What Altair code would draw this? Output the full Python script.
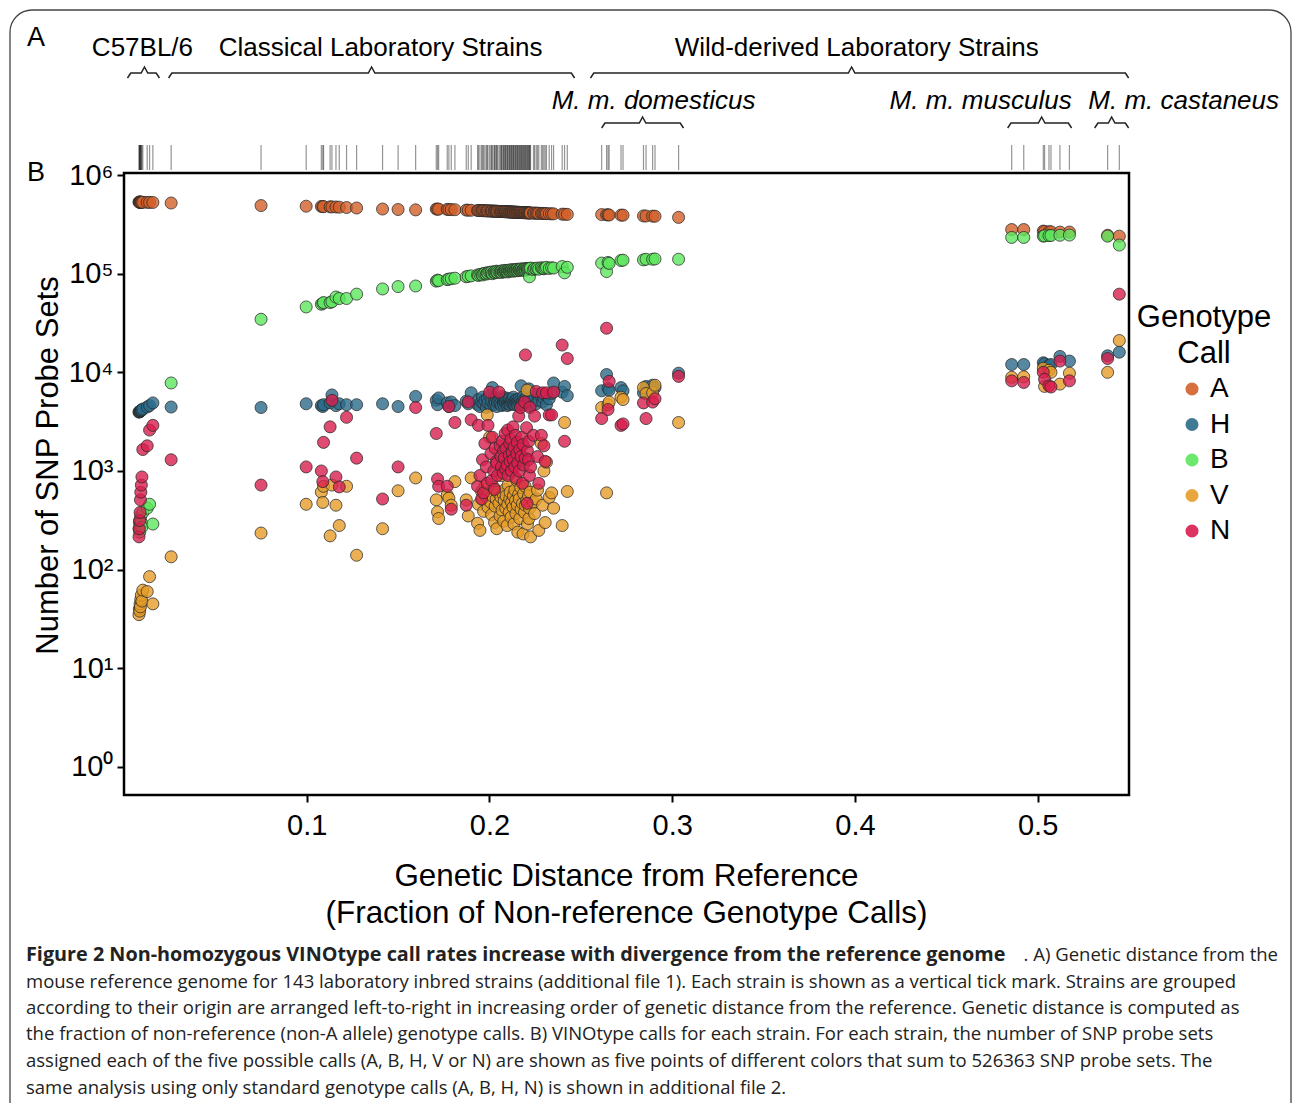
import altair as alt
import pandas as pd

# ---------------- data ----------------
CALLS = ["A", "H", "B", "V", "N"]
CALL_COLORS = ["#D2602A", "#2C6B8A", "#5CE65C", "#E59C28", "#D81E4E"]

# genetic distance from reference for each strain (fraction of non-reference calls)
distance = [
    # C57BL/6 substrains
    0.0082, 0.0084, 0.0086, 0.0088, 0.0090, 0.0092, 0.0095, 0.0098, 0.0103, 0.0127, 0.0140, 0.0158,
    # classical laboratory strains
    0.0258, 0.0750, 0.0997, 0.1080, 0.1088, 0.1092, 0.1128, 0.1138, 0.1160, 0.1178, 0.1218, 0.1273, 0.1415, 0.1500, 0.1596,
    0.1709, 0.1716, 0.1722, 0.1769, 0.1778, 0.1791, 0.1811, 0.1873, 0.1884, 0.1900,
    0.1935, 0.1940, 0.1948, 0.1957, 0.1962, 0.1968, 0.1975, 0.1983, 0.1988, 0.1992,
    0.2001, 0.2008, 0.2012, 0.2016, 0.2024, 0.2028, 0.2031, 0.2037, 0.2040, 0.2044,
    0.2052, 0.2058, 0.2063, 0.2066, 0.2069, 0.2075, 0.2078, 0.2081, 0.2086, 0.2089,
    0.2091, 0.2097, 0.2100, 0.2102, 0.2108, 0.2111, 0.2113, 0.2118, 0.2121, 0.2124,
    0.2129, 0.2131, 0.2134, 0.2139, 0.2142, 0.2145, 0.2150, 0.2152, 0.2155, 0.2160,
    0.2163, 0.2166, 0.2171, 0.2173, 0.2176, 0.2181, 0.2184, 0.2187, 0.2192, 0.2195,
    0.2197, 0.2203, 0.2206, 0.2208, 0.2214, 0.2216, 0.2219, 0.2222, 0.2225, 0.2241,
    0.2247, 0.2256, 0.2263, 0.2270, 0.2284, 0.2291, 0.2298, 0.2305, 0.2312, 0.2327,
    0.2340, 0.2351, 0.2398, 0.2411, 0.2426,
    # M. m. domesticus
    0.2614, 0.2641, 0.2649, 0.2655, 0.2720, 0.2731, 0.2843, 0.2857, 0.2893, 0.2906, 0.3035,
    # M. m. musculus
    0.4858, 0.4924, 0.5031, 0.5038, 0.5062, 0.5073, 0.5122, 0.5174,
    # M. m. castaneus
    0.5383, 0.5447,
]

calls_A = [
    532000, 531000, 531000, 530000, 530000, 530000, 529000, 529000, 529000, 528000, 528000, 527000,
    520000, 490000, 483000, 480000, 479000, 478000, 476000, 475000, 474000, 472000, 468000, 463000, 452000, 447000, 443000,
    452000, 451000, 451000, 448000, 447000, 446000, 445000, 441000, 440000, 439000,
    437000, 437000, 436000, 436000, 435000, 435000, 434000, 434000, 433000, 433000,
    432000, 432000, 431000, 431000, 430000, 430000, 430000, 429000, 429000, 428000,
    428000, 427000, 427000, 427000, 426000, 426000, 426000, 425000, 425000, 425000,
    424000, 424000, 424000, 423000, 423000, 423000, 422000, 422000, 422000, 421000,
    421000, 421000, 420000, 420000, 420000, 420000, 419000, 419000, 419000, 418000,
    418000, 418000, 417000, 417000, 417000, 416000, 416000, 416000, 415000, 415000,
    415000, 414000, 414000, 414000, 413000, 413000, 413000, 413000, 412000, 411000,
    411000, 410000, 410000, 409000, 408000, 408000, 407000, 407000, 406000, 405000,
    404000, 404000, 401000, 400000, 399000,
    397000, 395000, 395000, 393000, 392000, 392000, 385000, 384000, 383000, 382000, 372000,
    280000, 280000, 270000, 268000, 266000, 266000, 264000, 264000,
    245000, 240000,
]

calls_H = [
    3950, 3980, 4000, 4020, 4060, 4090, 4120, 4160, 4250, 4450, 4600, 4900,
    4450, 4400, 4800, 4600, 4500, 4700, 4900, 5900, 4600, 4800, 4700, 4700, 4800, 4500, 5700,
    5200, 4700, 5500, 4900, 4500, 5000, 4600, 5100, 4800, 6200,
    4700, 5300, 4500, 5000, 5600, 4800, 5200, 4400, 5400, 4900,
    5800, 4600, 5100, 7000, 4700, 5300, 4900, 5500, 4500, 5000,
    5200, 4800, 5400, 4600, 5700, 5000, 4700, 5300, 4900, 5100,
    5500, 4600, 5200, 4800, 5000, 5400, 4700, 5100, 4900, 5300,
    4800, 5600, 5000, 4700, 5200, 4900, 5300, 5000, 4600, 5100,
    5400, 4800, 5200, 7300, 4900, 5000, 5600, 4700, 5300, 5100,
    4900, 5500, 5000, 4800, 5200, 6800, 5400, 4600, 5100, 5600,
    5300, 4800, 6000, 5200, 5700, 5000, 5500, 5900, 4700, 5400,
    6100, 7800, 6300, 7200, 5800,
    6500, 9500, 6900, 6600, 7000, 6500, 6200, 7200, 7400, 7000, 9800,
    12000, 12000, 12500, 12200, 11800, 12000, 14500, 13000,
    14700, 16000,
]

calls_B = [
    260, 300, 240, 320, 280, 350, 300, 270, 380, 420, 460, 290,
    7800, 34500, 46000, 49000, 50000, 51000, 51000, 52000, 58000, 56000, 56000, 62000, 70000, 74000, 75000,
    84000, 86000, 85000, 87000, 88000, 89000, 90000, 93000, 94000, 95000,
    97000, 96000, 98000, 99000, 97000, 100000, 101000, 99000, 102000, 101000,
    103000, 102000, 104000, 100000, 103000, 105000, 102000, 104000, 106000, 103000,
    105000, 104000, 106000, 103000, 107000, 105000, 104000, 106000, 108000, 105000,
    107000, 106000, 104000, 108000, 107000, 109000, 106000, 108000, 107000, 110000,
    108000, 106000, 109000, 107000, 110000, 108000, 109000, 111000, 107000, 110000,
    109000, 111000, 108000, 110000, 112000, 109000, 111000, 110000, 112000, 108000,
    111000, 113000, 110000, 112000, 111000, 113000, 93000, 112000, 114000, 110000,
    113000, 112000, 114000, 111000, 115000, 113000, 112000, 114000, 116000, 113000,
    115000, 114000, 118000, 102000, 116000,
    128000, 105000, 130000, 127000, 136000, 137000, 138000, 140000, 140000, 141000, 140000,
    233000, 233000, 240000, 242000, 243000, 244000, 245000, 246000,
    240000, 195000,
]

calls_V = [
    35, 40, 38, 45, 42, 50, 55, 48, 62, 60, 85, 45,
    135, 235, 460, 610, 480, 700, 220, 720, 450, 280, 700, 140, 260, 630, 850,
    510, 385, 330, 570, 530, 450, 780, 510, 350, 850,
    295, 460, 250, 620, 520, 390, 700, 550, 3700, 430,
    2200, 480, 360, 560, 680, 300, 440, 520, 260, 610,
    470, 350, 540, 900, 400, 580, 310, 500, 650, 420,
    560, 280, 460, 720, 380, 520, 610, 340, 480, 1100,
    430, 560, 290, 640, 500, 370, 800, 450, 240, 580,
    520, 330, 680, 410, 1300, 470, 230, 590, 380, 700,
    450, 500, 6600, 290, 560, 330, 420, 610, 215, 480,
    370, 520, 640, 250, 1900, 450, 1000, 300, 1230, 540,
    600, 420, 280, 3100, 620,
    4400, 600, 4700, 5000, 5600, 5300, 7000, 6100, 6200, 7400, 3100,
    8900, 9000, 11000, 7200, 10500, 10000, 7600, 9800,
    10000, 21000,
]

calls_N = [
    215, 260, 315, 380, 510, 610, 720, 870, 1650, 1800, 2600, 2900,
    1300, 720, 1100, 1000, 780, 1950, 2800, 5200, 870, 690, 3500, 1350, 520, 1100, 4400,
    2400, 830, 700, 700, 4500, 410, 3100, 450, 5000, 3300,
    700, 2900, 900, 520, 1300, 600, 1900, 1100, 750, 2900,
    6300, 1500, 800, 2200, 1000, 650, 1700, 1250, 1200, 900,
    6300, 1800, 1400, 1100, 2000, 950, 1600, 1350, 2400, 1050,
    1700, 1150, 2600, 900, 1450, 1900, 1250, 2100, 1000, 1550,
    2800, 1300, 1750, 1100, 2300, 850, 1500, 1950, 1200, 3600,
    1000, 1650, 4400, 1400, 2200, 750, 1850, 1150, 5000, 1350,
    15000, 2750, 470, 1600, 1300, 2000, 900, 4400, 1100, 2300,
    3600, 6400, 1400, 750, 2300, 6200, 1800, 1250, 6200, 3700,
    3700, 6300, 18900, 2000, 13800,
    3400, 28000, 4200, 8100, 2900, 3000, 4900, 3400, 5000, 5400, 9100,
    8200, 7900, 10000, 8500, 7300, 7100, 13000, 8200,
    13800, 62000,
]

# strain-group brackets (in genetic-distance units)
group_labels = ["C57BL/6", "Classical Laboratory Strains", "Wild-derived Laboratory Strains"]
group_label_x = [0.0101, 0.1404, 0.4010]
sub_labels = ["M. m. domesticus", "M. m. musculus", "M. m. castaneus"]
sub_label_x = [0.2898, 0.4688, 0.5799]
brace_start = [0.0019, 0.0244, 0.2553, 0.2614, 0.4836, 0.5312]
brace_peak = [0.0112, 0.1355, 0.3982, 0.2838, 0.5022, 0.5405]
brace_end = [0.0194, 0.2466, 0.5498, 0.3062, 0.5186, 0.5498]
brace_level = ["top", "top", "top", "sub", "sub", "sub"]

caption_bold = "Figure 2 Non-homozygous VINOtype call rates increase with divergence from the reference genome"
caption_lines = [
    ". A) Genetic distance from the",
    "mouse reference genome for 143 laboratory inbred strains (additional file 1). Each strain is shown as a vertical tick mark. Strains are grouped",
    "according to their origin are arranged left-to-right in increasing order of genetic distance from the reference. Genetic distance is computed as",
    "the fraction of non-reference (non-A allele) genotype calls. B) VINOtype calls for each strain. For each strain, the number of SNP probe sets",
    "assigned each of the five possible calls (A, B, H, V or N) are shown as five points of different colors that sum to 526363 SNP probe sets. The",
    "same analysis using only standard genotype calls (A, B, H, N) is shown in additional file 2.",
]

# ---------------- tables ----------------
n = len(distance)
for arr in (calls_A, calls_H, calls_B, calls_V, calls_N):
    assert len(arr) == n, (len(arr), n)

rows = []
for call, vals in zip(CALLS, [calls_A, calls_H, calls_B, calls_V, calls_N]):
    for d, v in zip(distance, vals):
        rows.append({"distance": d, "count": v, "call": call})
points = pd.DataFrame(rows)
strains = pd.DataFrame({"distance": distance})

BRACE_Y = {"top": (-95, -100, -106), "sub": (-45, -50, -56)}
dx = 0.0018
brows = []
for i, (x0, xm, x1, lev) in enumerate(zip(brace_start, brace_peak, brace_end, brace_level)):
    yb, yl, yp = BRACE_Y[lev]
    path = [(x0, yb), (x0 + dx, yl), (xm - dx, yl), (xm, yp), (xm + dx, yl), (x1 - dx, yl), (x1, yb)]
    for k, (bx, by) in enumerate(path):
        brows.append({"brace": i, "k": k, "bx": bx, "by": by})
braces = pd.DataFrame(brows)

FONT = "Liberation Sans"
xscale = alt.Scale(domain=[0, 0.55], nice=False, zero=False)

x_axis = alt.Axis(
    values=[0.1, 0.2, 0.3, 0.4, 0.5], format=".1f",
    title=["Genetic Distance from Reference", "(Fraction of Non-reference Genotype Calls)"],
    titleFontSize=31.4, titleFontWeight="normal", titleFont=FONT, titleColor="black",
    titleX=502, titleY=65, titleBaseline="top", titleAlign="center", titleLineHeight=37,
    labelFontSize=29, labelFont=FONT, labelColor="black", labelPadding=9,
    tickSize=7, tickWidth=2, tickColor="black", domain=False, grid=False,
)


def xenc(field):
    return alt.X(field, scale=xscale, axis=x_axis)


# ---------------- layers ----------------
scatter = alt.Chart(points).mark_circle(
    size=145, opacity=1, fillOpacity=0.8, stroke="#2a2a2a", strokeWidth=1, strokeOpacity=0.75
).encode(
    x=xenc("distance:Q"),
    y=alt.Y(
        "count:Q",
        scale=alt.Scale(type="log", domain=[0.52, 1.048e6], nice=False),
        axis=alt.Axis(
            values=[1, 10, 100, 1000, 10000, 100000, 1000000],
            labelExpr="'10' + ['\u2070','\u00b9','\u00b2','\u00b3','\u2074','\u2075','\u2076'][round(log(datum.value)/LN10)]",
            title="Number of SNP Probe Sets",
            titleFontSize=31, titleFontWeight="normal", titleFont=FONT, titleColor="black",
            titleX=-76, titleY=292, titleAngle=-90, titleAlign="center", titleBaseline="middle",
            labelFontSize=29, labelFont=FONT, labelColor="black", labelPadding=4,
            tickSize=7, tickWidth=2, tickColor="black", domain=False, grid=False,
        ),
    ),
    fill=alt.Fill(
        "call:N",
        scale=alt.Scale(domain=CALLS, range=CALL_COLORS),
        legend=alt.Legend(
            title=["Genotype", "Call"], orient="none", legendX=1013, legendY=130,
            titleFontSize=31, titleFontWeight="normal", titleFont=FONT, titleColor="black",
            titleAlign="center", titleAnchor="middle", titleLineHeight=36, titlePadding=5,
            labelFontSize=28, labelFont=FONT, labelColor="black", labelOffset=4,
            symbolType="circle", symbolSize=170, symbolStrokeWidth=0, symbolOpacity=0.9,
            rowPadding=7.5, padding=0,
        ),
    ),
)

rug = alt.Chart(strains).mark_rule(color="black", opacity=0.42, strokeWidth=1.2).encode(
    x=xenc("distance:Q"),
    y=alt.value(-28),
    y2=alt.value(-3),
)

brace_layer = alt.Chart(braces).mark_line(color="#222222", strokeWidth=1.5, clip=False).encode(
    x=xenc("bx:Q"),
    y=alt.Y("by:Q", scale=alt.Scale(domain=[0, 100], range=[0, 100], nice=False, zero=False), axis=None),
    detail="brace:N",
    order="k:O",
)

group_text = alt.Chart(pd.DataFrame({"label": group_labels, "x": group_label_x})).mark_text(
    font=FONT, fontSize=26, color="black", align="center", baseline="middle"
).encode(x=xenc("x:Q"), y=alt.value(-125), text="label:N")

sub_text = alt.Chart(pd.DataFrame({"label": sub_labels, "x": sub_label_x})).mark_text(
    font=FONT, fontSize=26, fontStyle="italic", color="black", align="center", baseline="middle"
).encode(x=xenc("x:Q"), y=alt.value(-72), text="label:N")

one = pd.DataFrame({"k": [0]})
panel_a = alt.Chart(one).mark_text(font=FONT, fontSize=27, color="black", align="center", baseline="middle", text="A").encode(
    x=alt.value(-88), y=alt.value(-135))
panel_b = alt.Chart(one).mark_text(font=FONT, fontSize=27, color="black", align="center", baseline="middle", text="B").encode(
    x=alt.value(-88), y=alt.value(0))

frame = alt.Chart(one).mark_rect(fillOpacity=0, stroke="#444444", strokeWidth=1.3, cornerRadius=22).encode(
    x=alt.value(-114), x2=alt.value(1167), y=alt.value(-163), y2=alt.value(980))

CAP_FONT = "Open Sans"
CAP_SIZE = 18.5
cap_y = [782, 809, 835, 861, 888, 915]
caption_layers = [
    alt.Chart(one).mark_text(font=CAP_FONT, fontSize=19.8, fontWeight="bold", color="#222222",
                             align="left", baseline="middle", text=caption_bold).encode(
        x=alt.value(-98), y=alt.value(cap_y[0])),
    alt.Chart(one).mark_text(font=CAP_FONT, fontSize=CAP_SIZE, color="#222222",
                             align="right", baseline="middle", text=caption_lines[0]).encode(
        x=alt.value(1154), y=alt.value(cap_y[0])),
]
for line, yy in zip(caption_lines[1:], cap_y[1:]):
    caption_layers.append(
        alt.Chart(one).mark_text(font=CAP_FONT, fontSize=CAP_SIZE, color="#222222",
                                 align="left", baseline="middle", text=line).encode(
            x=alt.value(-98), y=alt.value(yy))
    )

chart = alt.layer(
    scatter, frame, rug, brace_layer, group_text, sub_text, panel_a, panel_b, *caption_layers
).resolve_scale(y="independent").properties(
    width=1005, height=622,
    padding={"left": 124, "top": 173, "right": 164, "bottom": 308},
    autosize=alt.AutoSizeParams(type="none"),
    background="white",
).configure_view(stroke="black", strokeWidth=2.5)

chart.save("out.html", embed_options={"renderer": "svg", "actions": False})
